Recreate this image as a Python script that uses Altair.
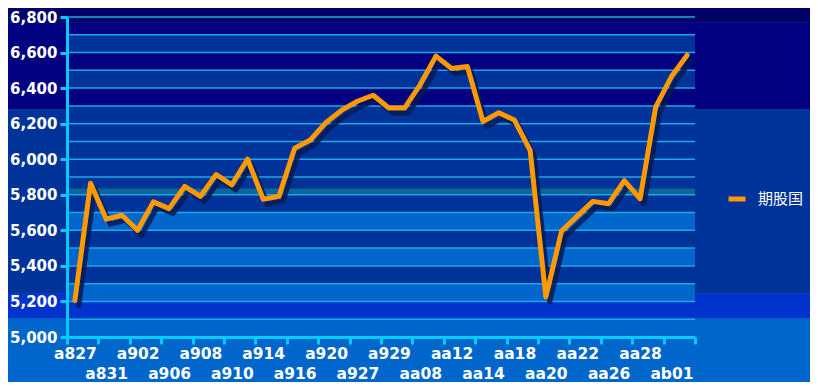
import altair as alt
import pandas as pd

# ---- data ----
categories = ["a827", "a828", "a831", "a901", "a902", "a903", "a906", "a907", "a908", "a909",
              "a910", "a913", "a914", "a915", "a916", "a917", "a920", "a921", "a927", "a928",
              "a929", "a930", "aa08", "aa11", "aa12", "aa13", "aa14", "aa15", "aa18", "aa19",
              "aa20", "aa21", "aa22", "aa25", "aa26", "aa27", "aa28", "aa29", "ab01", "ab02"]
values = [5205, 5865, 5663, 5685, 5600, 5760, 5722, 5847, 5791, 5914,
          5856, 6000, 5775, 5791, 6062, 6108, 6207, 6276, 6326, 6360,
          6288, 6288, 6420, 6580, 6510, 6522, 6212, 6262, 6220, 6050,
          5225, 5596, 5680, 5763, 5750, 5880, 5777, 6295, 6465, 6585]
series_name = "期股国"
y_ticks = [5000, 5200, 5400, 5600, 5800, 6000, 6200, 6400, 6600, 6800]
grid_values = [5000, 5100, 5200, 5300, 5400, 5500, 5600, 5700, 5800, 5900, 6000,
               6100, 6200, 6300, 6400, 6500, 6600, 6700, 6800]

# background gradient steps (whole chart) and alternating plot bands
bg_top = [6950, 6767, 6282, 5245]
bg_bot = [6767, 6282, 5245, 5106]
bg_col = ["#000066", "#000080", "#003399", "#0033cc"]

band_top = [6700, 6500, 6300, 6100, 5900, 5835, 5700, 5500, 5300, 5100]
band_bot = [6600, 6400, 6200, 6000, 5835, 5800, 5600, 5400, 5200, 5000]
band_col = ["#003399", "#003399", "#003399", "#003399", "#003399", "#0d6699",
            "#0066cc", "#0066cc", "#0066cc", "#0066cc"]

W, H = 628, 320
PL, PT, PR, PB = 59, 9, 115, 45

df = pd.DataFrame({"idx": list(range(len(categories))), "name": categories,
                   "value": values, "series": [series_name] * len(values)})
bg_df = pd.DataFrame({"t": bg_top, "b": bg_bot, "c": bg_col})
band_df = pd.DataFrame({"t": band_top, "b": band_bot, "c": band_col})
grid_df = pd.DataFrame({"v": grid_values})

yscale = alt.Scale(domain=[5000, 6800], nice=False, zero=False)
xscale = alt.Scale(domain=[-0.5, len(categories) - 0.5], nice=False, zero=False)

names_js = "[" + ",".join("'" + n + "'" for n in categories) + "]"
k = "round(datum.value + 0.5)"
label_expr = (f"({k} % 4 == 2) ? ['', {names_js}[{k}] || ''] : ({names_js}[{k}] || '')")
x_tick_vals = [i - 0.5 for i in range(0, len(categories) + 1, 2)]

y_axis = alt.Axis(values=y_ticks, labelExpr="format(datum.value, ',')", grid=False,
                  tickSize=7, title=None, labelPadding=3, labelFontSize=15, zindex=1)
x_axis = alt.Axis(values=x_tick_vals, labelExpr=label_expr, labelOffset=7.85,
                  labelOverlap=False, labelFlush=False, labelBound=False, title=None,
                  labelLineHeight=20, labelPadding=2, labelAlign="center",
                  labelFontSize=15.5, grid=False, tickSize=7, zindex=1)

bg = alt.Chart(bg_df).mark_rect().encode(
    x=alt.value(-PL), x2=alt.value(W + PR),
    y=alt.Y("t:Q", scale=yscale, axis=y_axis), y2="b:Q",
    fill=alt.Fill("c:N", scale=None, legend=None),
)
bands = alt.Chart(band_df).mark_rect().encode(
    x=alt.value(0), x2=alt.value(W),
    y=alt.Y("t:Q", scale=yscale, axis=y_axis), y2="b:Q",
    fill=alt.Fill("c:N", scale=None, legend=None),
)
grid = alt.Chart(grid_df).mark_rule(color="#1aaae6", strokeWidth=1.5).encode(
    y=alt.Y("v:Q", scale=yscale, axis=y_axis),
)

base = alt.Chart(df)
shadow = base.mark_line(color="#001a55", strokeWidth=5, xOffset=4, yOffset=5,
                        opacity=0.85, strokeCap="round", strokeJoin="round").encode(
    x=alt.X("idx:Q", scale=xscale, axis=x_axis),
    y=alt.Y("value:Q", scale=yscale, axis=y_axis),
)
line = base.mark_line(strokeWidth=5, strokeCap="round", strokeJoin="round").encode(
    x=alt.X("idx:Q", scale=xscale, axis=x_axis),
    y=alt.Y("value:Q", scale=yscale, axis=y_axis),
    color=alt.Color("series:N", scale=alt.Scale(domain=[series_name], range=["#ff9900"]),
                    legend=alt.Legend(title=None, orient="none", legendX=659, legendY=171,
                                      symbolType="stroke", symbolStrokeWidth=5, symbolSize=289,
                                      labelColor="white", labelFont="Noto Sans CJK SC",
                                      labelFontSize=15, labelOffset=10)),
)

chart = alt.layer(bg, bands, grid, shadow, line).properties(
    width=W, height=H, background="#0066cc",
    padding={"left": PL, "top": PT, "right": PR, "bottom": PB},
    autosize=alt.AutoSizeParams(type="none"),
).configure_view(stroke=None).configure_axis(
    domainColor="#00ccff", domainWidth=3, tickColor="#00ccff", tickWidth=3,
    labelColor="white", labelFont="DejaVu Sans", labelFontWeight="bold", labelFontSize=16,
)

chart.save("out.html", embed_options={"renderer": "svg", "actions": False})
